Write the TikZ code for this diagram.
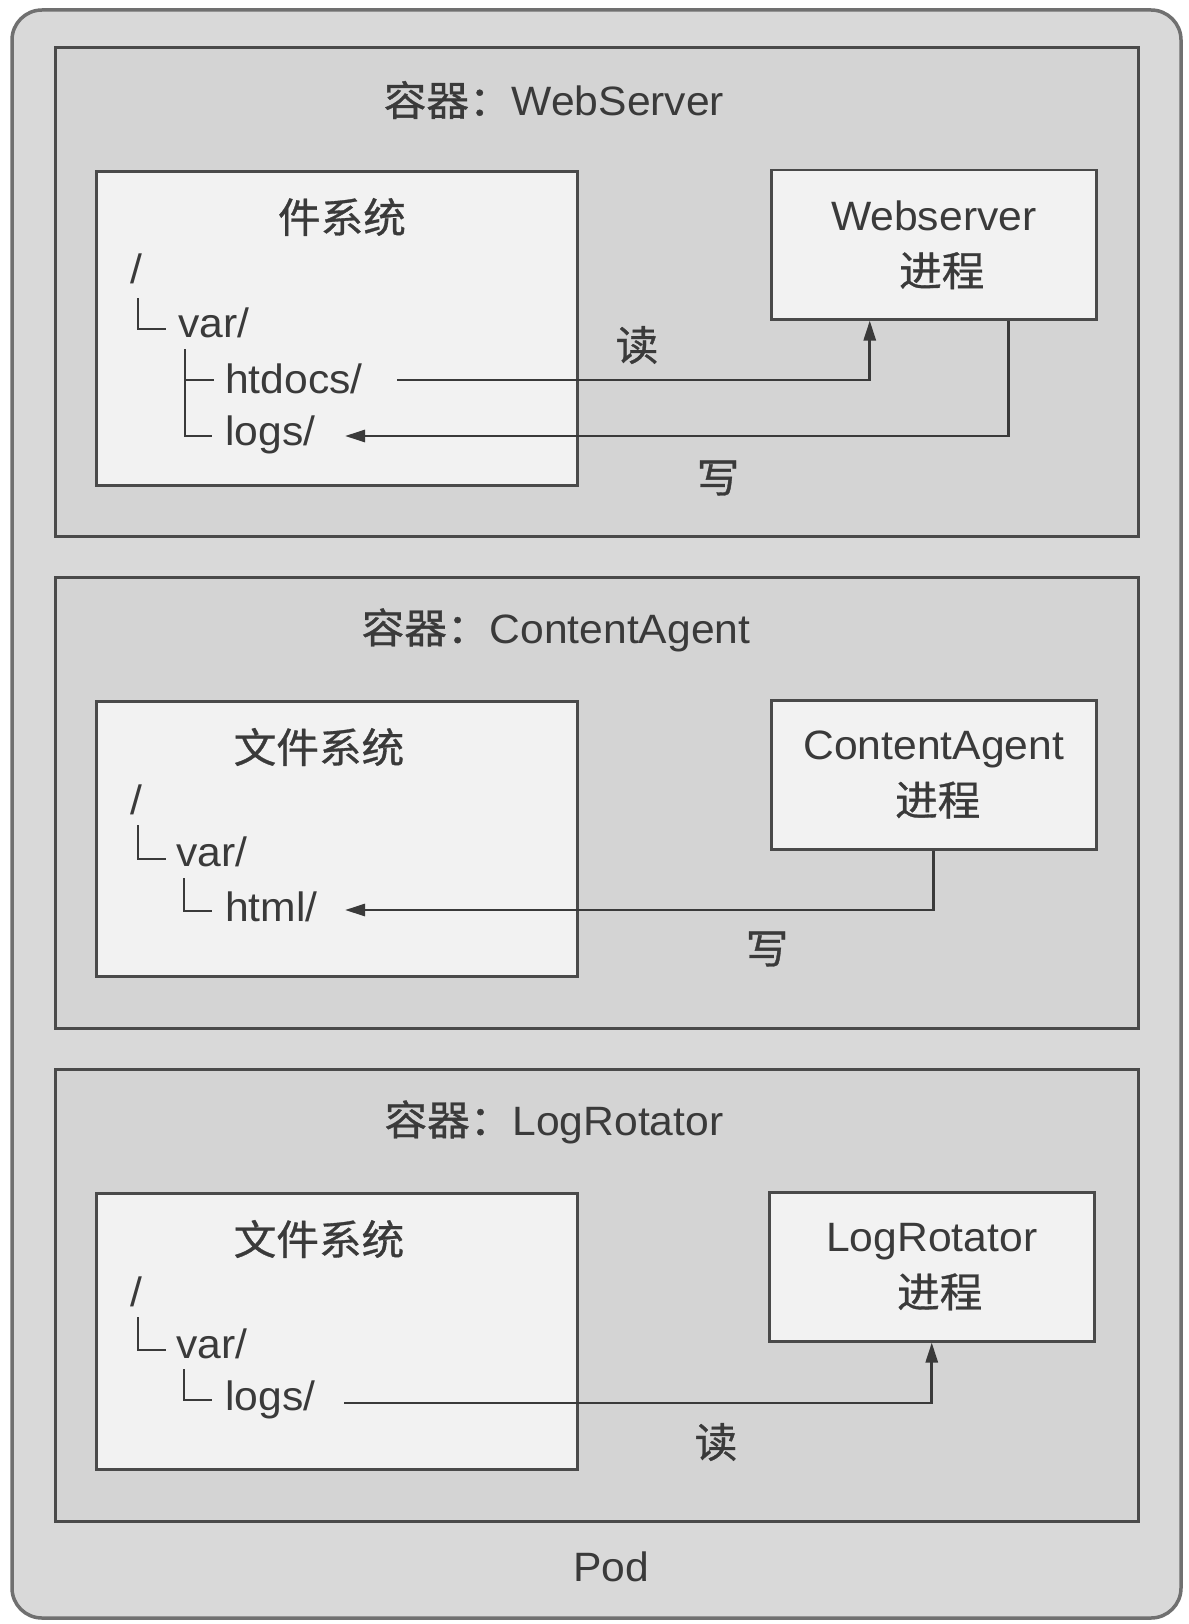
\documentclass[tikz,border=0pt]{standalone}
\usepackage{fontspec}
\setmainfont{Liberation Sans}[FakeStretch=1.04]
\newfontfamily\cjk{Noto Sans CJK SC}[FakeStretch=1.04,FakeBold=0.8]
\usetikzlibrary{arrows.meta}
\definecolor{podbg}{HTML}{D9D9D9}
\definecolor{podline}{HTML}{707070}
\definecolor{contbg}{HTML}{D4D4D4}
\definecolor{boxline}{HTML}{4A4A4A}
\definecolor{boxbg}{HTML}{F2F2F2}
\definecolor{ink}{HTML}{3A3A3A}
\tikzset{
  podbox/.style={draw=podline, fill=podbg, line width=3.5pt, rounded corners=30pt},
  contbox/.style={draw=boxline, fill=contbg, line width=3pt, anchor=north west, inner sep=0pt},
  fsbox/.style={draw=boxline, fill=boxbg, line width=3pt, anchor=north west, inner sep=0pt},
  procbox/.style={draw=boxline, fill=boxbg, line width=2.5pt, anchor=north west, inner sep=0pt},
  lbl/.style={text=ink, font=\fontsize{41}{52}\selectfont, inner sep=0pt},
  tree/.style={text=ink, font=\fontsize{41}{48}\selectfont, inner sep=0pt, anchor=west},
  treeline/.style={draw=ink, line width=2.5pt},
  arr/.style={draw=ink, line width=2.8pt, -{Triangle[length=20pt,width=12pt]}},
}
\begin{document}
\begin{tikzpicture}[x=1pt,y=-1pt]
\useasboundingbox (0,0) rectangle (1188,1624);
\fill[white] (0,0) rectangle (1188,1624);
% pod
\draw[podbox] (12,10) rectangle (1181,1618);
\node[lbl] (podlbl) at (611,1567) {Pod};

% container 1
\node[contbox, minimum width=1083pt, minimum height=489pt] (c1) at (54,46) {};
\node[lbl] (c1t) at (554,100) {{\cjk 容器：}WebServer};
\node[fsbox, minimum width=481pt, minimum height=314pt] (fs1) at (95,170) {};
\node[procbox, minimum width=325pt, minimum height=149pt] (p1) at (770,169) {};
\node[lbl, align=center] (p1t) at (p1.center) {Webserver\\[4pt]\hspace*{16pt}{\cjk 进程}};
\node[lbl] (fs1t) at (342,217) {\cjk 件系统};
\node[tree] (fs1root) at (130,269) {/};
\node[tree] (fs1var) at (178,323) {var/};
\node[tree] (fs1htdocs) at (225,379) {htdocs/};
\node[tree] (fs1logs) at (225,435) {logs/};
\draw[treeline] (138,298) -- (138,329) -- (166,329);
\draw[treeline] (185,349) -- (185,436) -- (212,436);
\draw[treeline] (185,380) -- (214,380);
\coordinate (r1s) at (397,380);
\coordinate (r1e) at ([xshift=-64pt]p1.south);
\coordinate (w1s) at ([xshift=75pt]p1.south);
\coordinate (w1e) at (345,436);
\draw[arr] (r1s) -| (r1e);
\draw[arr] (w1s) |- (w1e);
\node[lbl] (rd1) at (637,345) {\cjk 读};
\node[lbl] (wr1) at (718,478) {\cjk 写};

% container 2
\node[contbox, minimum width=1083pt, minimum height=451pt] (c2) at (54,576) {};
\node[lbl] (c2t) at (556,630) {{\cjk 容器：}ContentAgent};
\node[fsbox, minimum width=481pt, minimum height=275pt] (fs2) at (95,700) {};
\node[procbox, minimum width=325pt, minimum height=149pt] (p2) at (770,699) {};
\node[lbl, align=center] (p2t) at (p2.center) {ContentAgent\\[4pt]\hspace*{8pt}{\cjk 进程}};
\node[lbl] (fs2t) at (319,747) {\cjk 文件系统};
\node[tree] (fs2root) at (130,800) {/};
\node[tree] (fs2var) at (176,852) {var/};
\node[tree] (fs2html) at (225,907) {html/};
\draw[treeline] (138,825) -- (138,859) -- (166,859);
\draw[treeline] (184,878) -- (184,911) -- (212,911);
\coordinate (w2s) at (p2.south);
\coordinate (w2e) at (345,910);
\draw[arr] (w2s) |- (w2e);
\node[lbl] (wr2) at (767,949) {\cjk 写};

% container 3
\node[contbox, minimum width=1083pt, minimum height=452pt] (c3) at (54,1068) {};
\node[lbl] (c3t) at (554,1122) {{\cjk 容器：}LogRotator};
\node[fsbox, minimum width=481pt, minimum height=276pt] (fs3) at (95,1192) {};
\node[procbox, minimum width=325pt, minimum height=149pt] (p3) at (768,1191) {};
\node[lbl, align=center] (p3t) at (p3.center) {LogRotator\\[4pt]\hspace*{16pt}{\cjk 进程}};
\node[lbl] (fs3t) at (319,1239) {\cjk 文件系统};
\node[tree] (fs3root) at (130,1292) {/};
\node[tree] (fs3var) at (176,1344) {var/};
\node[tree] (fs3logs) at (225,1400) {logs/};
\draw[treeline] (138,1317) -- (138,1350) -- (166,1350);
\draw[treeline] (184,1369) -- (184,1400) -- (212,1400);
\coordinate (r3s) at (344,1403);
\coordinate (r3e) at (p3.south);
\draw[arr] (r3s) -| (r3e);
\node[lbl] (rd3) at (716,1442) {\cjk 读};
\end{tikzpicture}
\end{document}
